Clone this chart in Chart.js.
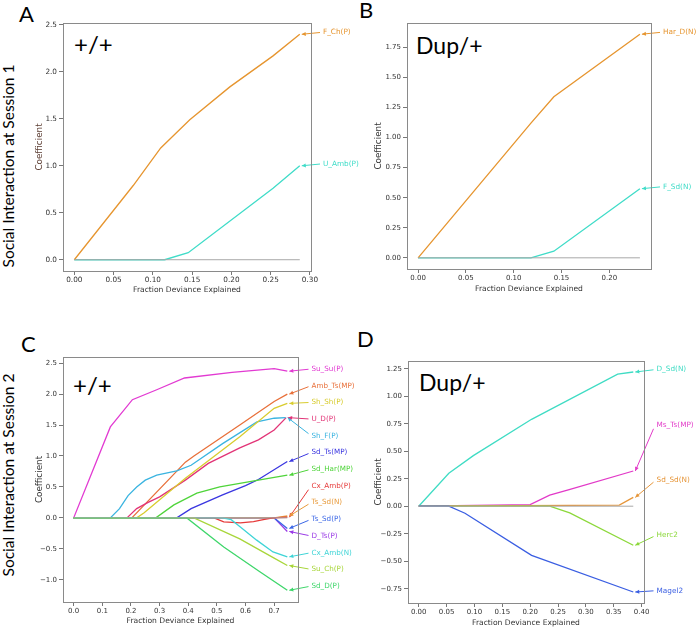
<!DOCTYPE html>
<html>
<head>
<meta charset="utf-8">
<script src="https://cdn.jsdelivr.net/npm/chart.js@4.4.1/dist/chart.umd.min.js"></script>
<style>
  html, body { margin: 0; padding: 0; background: #ffffff; }
  body { width: 700px; height: 629px; position: relative; overflow: hidden; }
  canvas { position: absolute; }
  .lbl { position: absolute; font-family: Lato, "Open Sans", sans-serif; color: #000; line-height: 1; white-space: nowrap; }
  .big { position: absolute; font-family: Lato, "Open Sans", sans-serif; color: #000; font-size: 15.5px; line-height: 1; white-space: nowrap; transform: translate(-50%, -50%) rotate(-90deg); }
</style>
</head>
<body>
<div class="lbl" style="left:19px;top:3px;font-size:22px;">A</div>
<div class="lbl" style="left:359px;top:-1px;font-size:22px;">B</div>
<div class="lbl" style="left:21px;top:333px;font-size:22px;">C</div>
<div class="lbl" style="left:357px;top:328px;font-size:22px;">D</div>
<div class="big" style="left:9px;top:166px;">Social Interaction at Session 1</div>
<div class="big" style="left:9px;top:475px;">Social Interaction at Session 2</div>
<div class="lbl" style="left:74px;top:32px;font-size:24px;">+/+</div>
<div class="lbl" style="left:416px;top:34px;font-size:23px;">Dup/+</div>
<div class="lbl" style="left:73px;top:373px;font-size:24px;">+/+</div>
<div class="lbl" style="left:419px;top:371px;font-size:23px;">Dup/+</div>

<canvas id="cA" width="340" height="295" style="left:30px;top:10px;"></canvas>
<canvas id="cB" width="330" height="295" style="left:370px;top:10px;"></canvas>
<canvas id="cC" width="340" height="289" style="left:30px;top:340px;"></canvas>
<canvas id="cD" width="330" height="289" style="left:370px;top:340px;"></canvas>

<script>
// ---------------- DATA ----------------
// Panel A (+/+, Session 1)
const aFChX  = [0, 0.075, 0.11, 0.147, 0.198, 0.253, 0.287];
const aFChY  = [0, 0.79, 1.19, 1.49, 1.84, 2.17, 2.40];
const aUAmbX = [0, 0.115, 0.145, 0.253, 0.287];
const aUAmbY = [0, 0, 0.075, 0.76, 1.00];
const aZeroX = [0, 0.287];
const aXTicks = [0, 0.05, 0.10, 0.15, 0.20, 0.25, 0.30];
const aYTicks = [0, 0.5, 1.0, 1.5, 2.0, 2.5];

// Panel B (Dup/+, Session 1)
const bHarDX = [0, 0.118, 0.142, 0.232];
const bHarDY = [0, 1.12, 1.34, 1.86];
const bFSdX  = [0, 0.118, 0.142, 0.232];
const bFSdY  = [0, 0, 0.055, 0.575];
const bZeroX = [0, 0.232];
const bXTicks = [0, 0.05, 0.10, 0.15, 0.20];
const bYTicks = [0, 0.25, 0.50, 0.75, 1.00, 1.25, 1.50, 1.75];

// Panel C (+/+, Session 2)
const cSuSuX   = [0, 0.128, 0.205, 0.29, 0.387, 0.553, 0.70, 0.746];
const cSuSuY   = [0, 1.47, 1.91, 2.07, 2.26, 2.35, 2.41, 2.37];
const cAmbTsX  = [0, 0.203, 0.33, 0.39, 0.42, 0.58, 0.70, 0.746];
const cAmbTsY  = [0, 0, 0.61, 0.90, 1.00, 1.50, 1.88, 2.00];
const cShShX   = [0, 0.22, 0.245, 0.39, 0.58, 0.70, 0.746];
const cShShY   = [0, 0, 0.08, 0.64, 1.31, 1.77, 1.85];
const cUDX     = [0, 0.186, 0.22, 0.26, 0.30, 0.39, 0.47, 0.58, 0.645, 0.70, 0.742];
const cUDY     = [0, 0, 0.15, 0.25, 0.34, 0.61, 0.88, 1.13, 1.26, 1.42, 1.62];
const cShFX    = [0, 0.128, 0.16, 0.19, 0.22, 0.25, 0.29, 0.36, 0.41, 0.52, 0.64, 0.70, 0.74];
const cShFY    = [0, 0, 0.15, 0.36, 0.50, 0.61, 0.69, 0.76, 0.85, 1.20, 1.55, 1.61, 1.62];
const cSdTsX   = [0, 0.36, 0.41, 0.52, 0.60, 0.645, 0.746];
const cSdTsY   = [0, 0, 0.15, 0.37, 0.52, 0.62, 0.91];
const cSdHarX  = [0, 0.287, 0.35, 0.43, 0.51, 0.645, 0.746];
const cSdHarY  = [0, 0, 0.21, 0.40, 0.50, 0.61, 0.69];
const cCxAmbPX = [0, 0.49, 0.524, 0.582, 0.628, 0.662, 0.696, 0.746];
const cCxAmbPY = [0, 0, -0.065, -0.08, -0.06, -0.03, 0, 0.01];
const cTsSdNX  = [0, 0.70, 0.746];
const cTsSdNY  = [0, 0, 0.03];
const cTsSdPX  = [0, 0.70, 0.746];
const cTsSdPY  = [0, 0, -0.17];
const cDTsX    = [0, 0.70, 0.746];
const cDTsY    = [0, 0, -0.22];
const cCxAmbNX = [0, 0.52, 0.55, 0.582, 0.639, 0.696, 0.746];
const cCxAmbNY = [0, 0, -0.03, -0.146, -0.36, -0.55, -0.63];
const cSuChX   = [0, 0.42, 0.58, 0.70, 0.746];
const cSuChY   = [0, 0, -0.34, -0.65, -0.77];
const cSdDX    = [0, 0.395, 0.524, 0.65, 0.746];
const cSdDY    = [0, 0, -0.47, -0.87, -1.17];
const cZeroX   = [0, 0.746];
const cXTicks = [0, 0.1, 0.2, 0.3, 0.4, 0.5, 0.6, 0.7];
const cYTicks = [-1.0, -0.5, 0, 0.5, 1.0, 1.5, 2.0, 2.5];

// Panel D (Dup/+, Session 2)
const dDSdX    = [0, 0.054, 0.098, 0.2025, 0.357, 0.385];
const dDSdY    = [0, 0.30, 0.46, 0.79, 1.20, 1.22];
const dMsTsX   = [0, 0.20, 0.235, 0.27, 0.385];
const dMsTsY   = [0, 0.015, 0.10, 0.15, 0.32];
const dSdSdX   = [0, 0.36, 0.385];
const dSdSdY   = [0, 0.01, 0.08];
const dHerc2X  = [0, 0.235, 0.271, 0.385];
const dHerc2Y  = [0, 0, -0.06, -0.355];
const dMagel2X = [0, 0.054, 0.083, 0.2025, 0.385];
const dMagel2Y = [0, 0, -0.064, -0.447, -0.78];
const dZeroX   = [0, 0.385];
const dXTicks = [0, 0.05, 0.10, 0.15, 0.20, 0.25, 0.30, 0.35, 0.40];
const dYTicks = [-0.75, -0.50, -0.25, 0, 0.25, 0.50, 0.75, 1.00, 1.25];

// ---------------- HELPERS ----------------
Chart.defaults.font.family = '"DejaVu Sans", sans-serif';
Chart.defaults.animation = false;

function pts(xs, ys) { return xs.map((x, i) => ({ x: x, y: ys[i] })); }
function zeroPts(xs) { return xs.map(x => ({ x: x, y: 0 })); }
function series(name, xs, ys, color) {
  return { label: name, data: pts(xs, ys), borderColor: color, backgroundColor: color,
           borderWidth: 1.3, pointRadius: 0, tension: 0, fill: false };
}
function zeroSeries(xs) {
  return { label: '_zero', data: zeroPts(xs), borderColor: '#a8a8a8', borderWidth: 1,
           pointRadius: 0, tension: 0, fill: false, noLabel: true };
}
function fmt(v, dec) {
  const s = Math.abs(v).toFixed(dec);
  return (v < -1e-9 ? '\u2212' : '') + s;
}

const framePlugin = {
  id: 'frame',
  afterDraw(chart) {
    const { ctx, chartArea: a } = chart;
    ctx.save();
    ctx.strokeStyle = '#8a8a8a';
    ctx.lineWidth = 1;
    ctx.strokeRect(Math.round(a.left) + 0.5, Math.round(a.top) + 0.5,
                   Math.round(a.right - a.left), Math.round(a.bottom - a.top));
    ctx.restore();
  }
};

const endLabelPlugin = {
  id: 'endLabels',
  afterDatasetsDraw(chart, args, opts) {
    const { ctx, chartArea: a } = chart;
    const xs = chart.scales.x, ys = chart.scales.y;
    ctx.save();
    ctx.font = opts.fontSize + 'px "DejaVu Sans", sans-serif';
    ctx.textBaseline = 'middle';
    ctx.textAlign = 'left';
    chart.data.datasets.forEach((ds) => {
      if (ds.noLabel) return;
      const last = ds.data[ds.data.length - 1];
      const ex = xs.getPixelForValue(last.x), ey = ys.getPixelForValue(last.y);
      const tx = a.right + opts.dx;
      const idx = opts.order.indexOf(ds.label);
      const ty = opts.mode === 'end' ? ey + opts.dy : a.top + opts.y0 + idx * opts.step;
      ctx.fillStyle = ds.borderColor;
      ctx.fillText(ds.label, tx, ty);
      const sx = tx - 3;
      const sy = ty + Math.max(-4, Math.min(4, (ey - ty) * 0.12));
      const hx = ex + 2, hy = ey;
      const ang = Math.atan2(hy - sy, hx - sx);
      ctx.strokeStyle = ds.borderColor;
      ctx.lineWidth = 1;
      ctx.beginPath();
      ctx.moveTo(sx, sy);
      ctx.lineTo(hx, hy);
      ctx.stroke();
      const L = 4, W = 2;
      ctx.beginPath();
      ctx.moveTo(hx, hy);
      ctx.lineTo(hx - L * Math.cos(ang) + W * Math.sin(ang), hy - L * Math.sin(ang) - W * Math.cos(ang));
      ctx.lineTo(hx - L * Math.cos(ang) - W * Math.sin(ang), hy - L * Math.sin(ang) + W * Math.cos(ang));
      ctx.closePath();
      ctx.fill();
    });
    ctx.restore();
  }
};

function makeChart(id, cfg) {
  const L = cfg.layout;
  const tickFont = { size: cfg.tickSize };
  const xTitleFont = { size: 7.6 };
  const yTitleFont = { size: 8.8 };
  const xlh = 7.6 * 1.2, ylh = 8.8 * 1.2;
  return new Chart(document.getElementById(id), {
    type: 'line',
    data: { datasets: cfg.datasets },
    plugins: [framePlugin, endLabelPlugin],
    options: {
      responsive: false,
      maintainAspectRatio: false,
      animation: false,
      layout: { padding: { left: 0, top: L.plotT - L.cy, right: L.cx + L.cw - L.plotR, bottom: 0 } },
      plugins: {
        legend: { display: false },
        tooltip: { enabled: false },
        endLabels: cfg.labels
      },
      scales: {
        x: {
          type: 'linear', min: cfg.xMin, max: cfg.xMax,
          afterBuildTicks: s => { s.ticks = cfg.xTicks.map(v => ({ value: v })); },
          afterFit: s => { s.height = L.cy + L.ch - L.plotB; },
          ticks: { autoSkip: false, maxRotation: 0, font: tickFont, color: '#333', padding: 1,
                   callback: v => fmt(v, cfg.xDec) },
          grid: { drawOnChartArea: false, drawTicks: true, tickLength: 4, color: '#777' },
          border: { display: false },
          title: { display: true, text: 'Fraction Deviance Explained', color: '#333', font: xTitleFont,
                   padding: { top: 0, bottom: L.cy + L.ch - L.xTitleY - xlh / 2 } }
        },
        y: {
          type: 'linear', min: cfg.yMin, max: cfg.yMax,
          afterBuildTicks: s => { s.ticks = cfg.yTicks.map(v => ({ value: v })); },
          afterFit: s => { s.width = L.plotL - L.cx; },
          ticks: { autoSkip: false, font: tickFont, color: '#333', padding: 2,
                   callback: v => fmt(v, cfg.yDec) },
          grid: { drawOnChartArea: false, drawTicks: true, tickLength: 4, color: '#777' },
          border: { display: false },
          title: { display: true, text: 'Coefficient', color: cfg.yTitleColor || '#333', font: yTitleFont,
                   padding: { top: L.yTitleX - L.cx - ylh / 2, bottom: 0 } }
        }
      }
    }
  });
}

// ---------------- CHARTS ----------------
const ORANGE = '#e6952f', TURQ = '#3fdcc8';

makeChart('cA', {
  layout: { cx: 30, cy: 10, cw: 340, ch: 295, plotL: 63, plotT: 23, plotR: 311, plotB: 271, xTitleY: 290, yTitleX: 40 },
  xMin: -0.0144, xMax: 0.3013, yMin: -0.12, yMax: 2.52,
  xTicks: aXTicks, yTicks: aYTicks, xDec: 2, yDec: 1, tickSize: 7.3, yTitleColor: '#5a3b30',
  datasets: [
    zeroSeries(aZeroX),
    series('F_Ch(P)', aFChX, aFChY, ORANGE),
    series('U_Amb(P)', aUAmbX, aUAmbY, TURQ)
  ],
  labels: { mode: 'end', dx: 12, dy: -2, fontSize: 7.3, order: [] }
});

makeChart('cB', {
  layout: { cx: 370, cy: 10, cw: 330, ch: 295, plotL: 407, plotT: 23, plotR: 651, plotB: 269, xTitleY: 289, yTitleX: 379 },
  xMin: -0.0116, xMax: 0.2436, yMin: -0.093, yMax: 1.953,
  xTicks: bXTicks, yTicks: bYTicks, xDec: 2, yDec: 2, tickSize: 7.0,
  datasets: [
    zeroSeries(bZeroX),
    series('Har_D(N)', bHarDX, bHarDY, ORANGE),
    series('F_Sd(N)', bFSdX, bFSdY, TURQ)
  ],
  labels: { mode: 'end', dx: 12, dy: -2, fontSize: 7.3, order: [] }
});

const cOrder = ['Su_Su(P)', 'Amb_Ts(MP)', 'Sh_Sh(P)', 'U_D(P)', 'Sh_F(P)', 'Sd_Ts(MP)', 'Sd_Har(MP)',
                'Cx_Amb(P)', 'Ts_Sd(N)', 'Ts_Sd(P)', 'D_Ts(P)', 'Cx_Amb(N)', 'Su_Ch(P)', 'Sd_D(P)'];
makeChart('cC', {
  layout: { cx: 30, cy: 340, cw: 340, ch: 289, plotL: 63, plotT: 357, plotR: 298, plotB: 602, xTitleY: 621.5, yTitleX: 40 },
  xMin: -0.0373, xMax: 0.7833, yMin: -1.3595, yMax: 2.5995,
  xTicks: cXTicks, yTicks: cYTicks, xDec: 1, yDec: 1, tickSize: 7.0,
  datasets: [
    zeroSeries(cZeroX),
    series('Sd_D(P)', cSdDX, cSdDY, '#3ed66a'),
    series('Su_Ch(P)', cSuChX, cSuChY, '#a8d63a'),
    series('Cx_Amb(N)', cCxAmbNX, cCxAmbNY, '#3ed4d6'),
    series('Sd_Har(MP)', cSdHarX, cSdHarY, '#4fd43a'),
    series('Sh_Sh(P)', cShShX, cShShY, '#d8cc2e'),
    series('Sh_F(P)', cShFX, cShFY, '#3ab4e0'),
    series('U_D(P)', cUDX, cUDY, '#e23477'),
    series('Su_Su(P)', cSuSuX, cSuSuY, '#e23ad2'),
    series('Cx_Amb(P)', cCxAmbPX, cCxAmbPY, '#e63a3a'),
    series('Ts_Sd(N)', cTsSdNX, cTsSdNY, '#e89a3a'),
    series('Amb_Ts(MP)', cAmbTsX, cAmbTsY, '#e8703a'),
    series('Sd_Ts(MP)', cSdTsX, cSdTsY, '#3a36e0'),
    series('Ts_Sd(P)', cTsSdPX, cTsSdPY, '#3a66e6'),
    series('D_Ts(P)', cDTsX, cDTsY, '#9a3ae6')
  ],
  labels: { mode: 'list', dx: 13.5, y0: 12, step: 16.7, fontSize: 7.2, order: cOrder }
});

const dOrder = ['D_Sd(N)', 'Ms_Ts(MP)', 'Sd_Sd(N)', 'Herc2', 'Magel2'];
makeChart('cD', {
  layout: { cx: 370, cy: 340, cw: 330, ch: 289, plotL: 408, plotT: 361, plotR: 644, plotB: 603, xTitleY: 623, yTitleX: 379 },
  xMin: -0.01925, xMax: 0.40425, yMin: -0.88, yMax: 1.32,
  xTicks: dXTicks, yTicks: dYTicks, xDec: 2, yDec: 2, tickSize: 7.0,
  datasets: [
    zeroSeries(dZeroX),
    series('Magel2', dMagel2X, dMagel2Y, '#3a5ee2'),
    series('Herc2', dHerc2X, dHerc2Y, '#8cd83a'),
    series('Sd_Sd(N)', dSdSdX, dSdSdY, '#e6963a'),
    series('Ms_Ts(MP)', dMsTsX, dMsTsY, '#e23ac8'),
    series('D_Sd(N)', dDSdX, dDSdY, '#3fdcc4')
  ],
  labels: { mode: 'list', dx: 12.5, y0: 8.5, step: 55.3, fontSize: 7.3, order: dOrder }
});
</script>
</body>
</html>
